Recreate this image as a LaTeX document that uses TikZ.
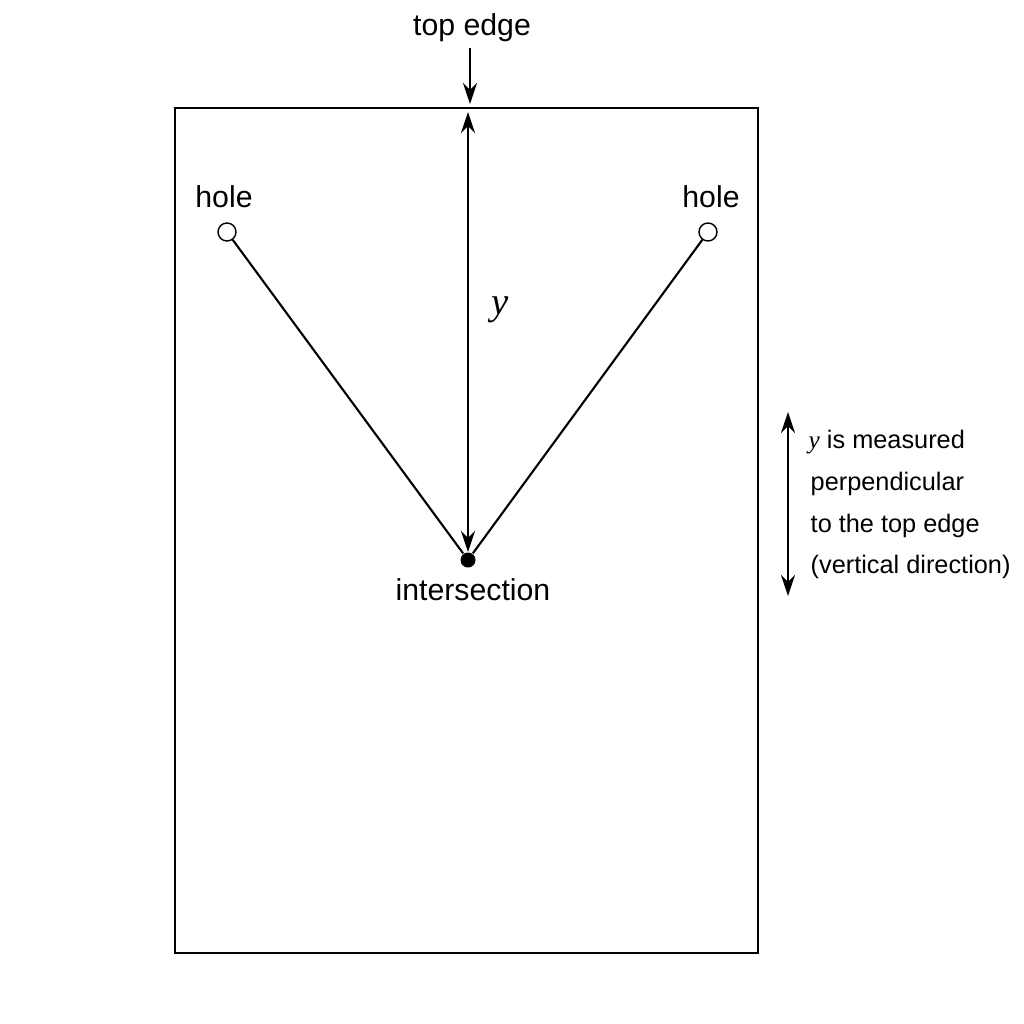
\documentclass[tikz,border=0pt]{standalone}
\usepackage{fontspec}
\setmainfont{Liberation Sans}
\newfontfamily\yfont{Liberation Serif}
\usetikzlibrary{arrows.meta}
\begin{document}
\begin{tikzpicture}[x=0.01cm,y=-0.01cm,
    hole/.style={circle,draw,fill=white,inner sep=0pt,minimum size=0.18cm},
    lbl/.style={font=\fontsize{8.6}{10}\selectfont},
    side/.style={font=\fontsize{7.2}{9}\selectfont,anchor=west,inner sep=0pt},
    arr/.style={-{Stealth[length=6pt,width=4pt]},semithick}]
\useasboundingbox (0,0) rectangle (1024,1024);
\draw[semithick] (175,108) rectangle (758,953);
\node[lbl] (top) at (472,28) {top edge};
\coordinate (edge) at (470,104);
\draw[arr] (470,48) -- (edge);
\node[hole] (h1) at (227,232) {};
\node[hole] (h2) at (708,232) {};
\node[lbl] at (224,197) {hole};
\node[lbl] at (711,197) {hole};
\node[circle,fill,inner sep=0pt,minimum size=0.15cm] (x) at (468,560) {};
\node[lbl] at (473,590) {intersection};
\draw[semithick] (h1) -- (x) -- (h2);
\coordinate (t) at (468,112);
\coordinate (b) at (468,552);
\draw[arr,{Stealth[length=6pt,width=4pt]}-{Stealth[length=6pt,width=4pt]}] (t) -- (b);
\node[font=\fontsize{11}{12}\selectfont\yfont\itshape] at (500,310) {y};
\coordinate (s1) at (788,412);
\coordinate (s2) at (788,596);
\draw[arr,{Stealth[length=6pt,width=4pt]}-{Stealth[length=6pt,width=4pt]}] (s1) -- (s2);
\node[side] at (808,442) {{\yfont\itshape y} is measured};
\node[side] at (810,484) {perpendicular};
\node[side] at (810,526) {to the top edge};
\node[side] at (810,567) {(vertical direction)};
\end{tikzpicture}
\end{document}
